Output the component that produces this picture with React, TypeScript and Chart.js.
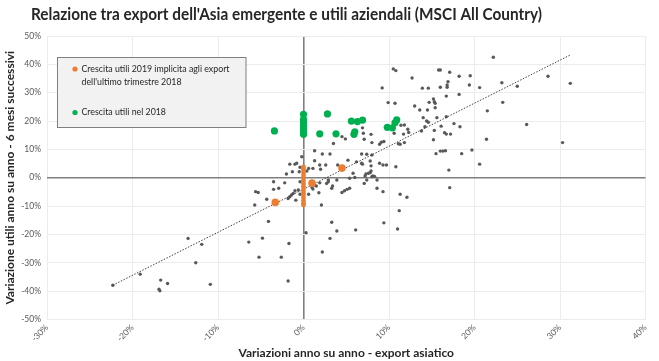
import React, { useEffect, useRef } from 'react';
import { Chart, registerables } from 'chart.js';

Chart.register(...registerables);

const chartTitle = "Relazione tra export dell'Asia emergente e utili aziendali (MSCI All Country)";
const xAxisTitle = 'Variazioni anno su anno - export asiatico';
const yAxisTitle = 'Variazione utili anno su anno - 6 mesi successivi';
const legendOrangeLines = ['Crescita utili 2019 implicita agli export', "dell'ultimo trimestre 2018"];
const legendGreenLines = ['Crescita utili nel 2018'];

const xTicks = [-30, -20, -10, 0, 10, 20, 30, 40];
const yTicks = [-50, -40, -30, -20, -10, 0, 10, 20, 30, 40, 50];

// Grey points: [export y/y %, earnings y/y % 6m later]
const greyPoints: number[][] = [
  [-22.3, -37.9], [-19.1, -34.0], [-16.7, -36.1], [-15.9, -37.3], [-16.9, -39.3], [-16.8, -39.9],
  [-13.5, -21.4], [-11.9, -23.5], [-12.6, -30.0], [-10.9, -37.6], [-6.4, -22.7], [-5.2, -28.0],
  [-4.8, -21.3], [-4.1, -15.4], [-2.6, -28.0], [-1.7, -23.2], [-1.8, -36.4], [0.3, -19.4],
  [2.2, -26.2], [3.1, -21.4], [-5.7, -9.6], [-5.6, -4.9], [-5.3, -5.2], [-3.5, -1.4],
  [-3.5, -4.1], [-4.3, -7.6], [-2.2, -1.8], [-2.0, 1.3], [-1.3, 2.1], [-1.8, -7.3],
  [-1.6, -6.7], [-1.4, -6.1], [-1.2, -5.5], [-1.0, -4.6], [-0.6, -4.3], [-0.4, -5.8],
  [-0.9, -7.9], [-0.4, -1.4], [0.6, -5.8], [1.1, -4.0], [1.5, -2.9], [1.8, -5.3],
  [2.1, -9.6], [2.9, -1.4], [2.7, -2.0], [0.4, 2.4], [-1.6, 4.8], [-1.0, 4.8],
  [-0.4, 3.7], [-0.5, 2.1], [3.3, -15.7], [3.9, -18.8], [6.1, -18.4], [1.3, 6.0],
  [1.9, 4.5], [2.6, 4.5], [2.0, 3.0], [4.5, -5.2], [4.8, -4.6], [5.1, -4.1],
  [5.4, -3.7], [3.4, -2.9], [1.9, -1.8], [1.3, -2.6], [1.0, -3.4], [3.9, -0.8],
  [5.4, -0.2], [6.0, 0.1], [7.2, 0.6], [7.3, 1.3], [7.6, 1.6], [7.8, 1.8],
  [7.4, -0.8], [7.1, -2.0], [8.0, 0.4], [8.6, -3.7], [9.3, -4.9], [11.3, -5.8],
  [12.1, -6.9], [17.1, -3.5], [11.2, -11.6], [9.4, -15.9], [11.0, -18.1], [6.9, 4.8],
  [7.9, 4.2], [8.9, 5.1], [9.3, 4.5], [10.8, 3.9], [4.0, 4.5], [4.4, 3.3],
  [0.6, 3.3], [7.9, 2.4], [8.1, 0.6], [8.3, 0.5], [17.0, 2.7], [20.6, 4.8],
  [-0.2, 7.4], [-0.8, 5.1], [1.1, 3.3], [5.8, 1.6], [5.2, 6.2], [6.2, 5.6],
  [6.8, 5.1], [7.8, 5.9], [9.7, 4.5], [1.3, 9.5], [2.2, 8.4], [3.1, 8.4],
  [6.8, 8.4], [7.4, 8.3], [8.0, 8.0], [8.9, 11.8], [9.1, 12.5], [9.4, 12.8],
  [8.0, 12.4], [11.1, 12.0], [11.3, 11.8], [11.8, 12.4], [3.5, 12.1], [4.5, 14.5],
  [4.9, 13.7], [6.9, 17.6], [7.0, 15.7], [7.9, 15.3], [7.1, 13.6], [10.6, 15.7],
  [11.7, 15.4], [11.4, 18.5], [11.8, 18.6], [12.2, 17.1], [10.5, 38.4], [10.8, 37.8],
  [9.2, 31.7], [9.9, 26.5], [10.7, 26.3], [12.7, 35.2], [13.0, 25.3], [13.6, 23.9],
  [14.5, 23.9], [13.9, 31.6], [14.6, 31.6], [15.8, 38.0], [16.0, 38.0], [17.1, 37.2],
  [18.2, 35.8], [19.5, 36.0], [16.9, 33.9], [16.8, 32.7], [16.8, 31.9], [19.4, 32.7],
  [20.6, 31.8], [23.2, 33.5], [25.0, 32.3], [28.6, 35.8], [31.2, 33.3], [22.2, 42.5],
  [16.0, 31.9], [16.7, 28.8], [18.2, 29.4], [23.3, 26.6], [21.5, 23.6], [15.2, 27.8],
  [15.3, 26.8], [15.4, 26.3], [14.7, 26.6], [15.4, 24.7], [14.0, 21.2], [14.4, 20.0],
  [14.6, 19.6], [15.6, 21.2], [16.7, 21.5], [17.6, 19.1], [18.3, 18.0], [16.1, 18.2],
  [15.3, 16.7], [13.8, 16.5], [14.2, 18.0], [16.5, 15.9], [16.7, 15.4], [17.2, 15.4],
  [15.2, 13.4], [21.4, 13.6], [26.1, 18.8], [30.3, 12.4], [15.5, 8.5], [16.0, 9.4],
  [16.3, 9.4], [16.6, 9.5], [18.5, 8.5], [19.7, 9.8], [12.3, 16.0], [-2.9, -3.7],
  [2.9, -0.8], [3.3, -3.7], [8.6, -0.8],
];

// Orange: implied 2019 earnings growth
const orangeBandX = [0, 0, 0, 0, 0, 0, 0, 0, 0, 0, 0, 0, 0, 0, 0];
const orangeBandY = [3.8, 3, 2, 1, 0, -1, -2, -3, -4, -5, -6, -7, -8, -9, -9.6];
const orangeBigPoints: number[][] = [[4.5, 3.4], [1.0, -1.9], [-3.3, -8.7]];

// Green: 2018 earnings growth
const greenPoints: number[][] = [
  [0, 22.4], [0, 20.6], [0, 19.7], [0, 18.4], [0, 17.2], [0, 16.1], [0, 15.3],
  [-3.4, 16.5], [2.8, 22.5], [1.9, 15.5], [3.8, 15.5], [5.6, 20.0], [6.3, 19.8],
  [6.9, 20.3], [6.0, 16.2], [5.9, 15.3], [9.8, 17.8], [10.4, 17.6], [10.7, 19.4], [10.9, 20.4],
];

// Trend line endpoints
const trendStart = [-22.3, -37.9];
const trendEnd = [31.2, 43.3];

const FONT = 'Lato, "Open Sans", "Noto Sans", sans-serif';
const ORANGE = '#ED7D31';
const GREEN = '#00B050';
const GREY = '#595959';

const toXY = (p: number[]) => ({ x: p[0], y: p[1] });

const overlayPlugin = {
  id: 'overlay',
  afterDraw(chart: any) {
    const ctx = chart.ctx as CanvasRenderingContext2D;
    ctx.save();
    // Title, fitted to the reference width
    ctx.font = `bold 17px ${FONT}`;
    ctx.fillStyle = '#262626';
    ctx.textBaseline = 'alphabetic';
    ctx.textAlign = 'left';
    const w = ctx.measureText(chartTitle).width;
    const target = 511;
    ctx.translate(31, 20);
    ctx.scale(target / w, 1);
    ctx.fillText(chartTitle, 0, 0);
    ctx.restore();

    // Legend box
    ctx.save();
    ctx.fillStyle = '#f2f2f2';
    ctx.strokeStyle = '#7f7f7f';
    ctx.lineWidth = 1;
    ctx.fillRect(57.5, 57.5, 188.5, 70);
    ctx.strokeRect(57.5, 57.5, 188.5, 70);
    ctx.font = `8.8px ${FONT}`;
    ctx.textBaseline = 'middle';
    ctx.textAlign = 'left';
    ctx.beginPath();
    ctx.fillStyle = ORANGE;
    ctx.arc(75, 69, 2.6, 0, Math.PI * 2);
    ctx.fill();
    ctx.fillStyle = '#262626';
    legendOrangeLines.forEach((t, i) => ctx.fillText(t, 81.5, 69 + i * 13.3));
    ctx.beginPath();
    ctx.fillStyle = GREEN;
    ctx.arc(75, 112.5, 2.6, 0, Math.PI * 2);
    ctx.fill();
    ctx.fillStyle = '#262626';
    legendGreenLines.forEach((t, i) => ctx.fillText(t, 81.5, 112.5 + i * 13.3));
    ctx.restore();
  },
};

export default function App() {
  const ref = useRef<HTMLCanvasElement | null>(null);
  useEffect(() => {
    if (!ref.current) return;
    const zeroColor = (c: any) => (c.tick && c.tick.value === 0 ? '#7f7f7f' : '#ececec');
    const zeroWidth = (c: any) => (c.tick && c.tick.value === 0 ? 1.6 : 1);
    const chart = new Chart(ref.current, {
      type: 'scatter',
      data: {
        datasets: [
          {
            label: 'Crescita utili nel 2018',
            data: greenPoints.map(toXY),
            backgroundColor: GREEN,
            borderWidth: 0,
            pointRadius: 3.6,
            order: 0,
          },
          {
            label: 'Crescita utili 2019 implicita',
            data: orangeBigPoints.map(toXY),
            backgroundColor: ORANGE,
            borderWidth: 0,
            pointRadius: 3.8,
            order: 1,
          },
          {
            label: 'Crescita utili 2019 implicita (banda)',
            data: orangeBandX.map((x, i) => ({ x, y: orangeBandY[i] })),
            backgroundColor: ORANGE,
            borderWidth: 0,
            pointRadius: 2.4,
            order: 2,
          },
          {
            label: 'Tendenza',
            type: 'line',
            data: [toXY(trendStart), toXY(trendEnd)],
            borderColor: '#404040',
            borderWidth: 1,
            borderDash: [1.5, 1.5],
            pointRadius: 0,
            fill: false,
            order: 3,
          } as any,
          {
            label: 'Dati',
            data: greyPoints.map(toXY),
            backgroundColor: GREY,
            borderWidth: 0,
            pointRadius: 1.7,
            order: 4,
          },
        ],
      },
      options: {
        animation: false,
        responsive: true,
        maintainAspectRatio: false,
        layout: { padding: { top: 36, right: 13.5, bottom: 0, left: 0 } },
        plugins: { legend: { display: false }, tooltip: { enabled: false }, title: { display: false } },
        scales: {
          x: {
            type: 'linear',
            min: -30,
            max: 40,
            afterBuildTicks: (s: any) => { s.ticks = xTicks.map((v) => ({ value: v })); },
            afterFit: (s: any) => { s.height = 41.5; },
            border: { display: false },
            grid: { color: zeroColor, lineWidth: zeroWidth, drawTicks: false },
            ticks: {
              minRotation: 45,
              maxRotation: 45,
              padding: 3,
              color: '#595959',
              font: { family: FONT, size: 8.5 },
              callback: (v: any) => `${v}%`,
            },
            title: {
              display: true,
              text: xAxisTitle,
              color: '#262626',
              font: { family: FONT, size: 12, weight: 'bold' },
              padding: { top: 0, bottom: 1 },
            },
          },
          y: {
            type: 'linear',
            min: -50,
            max: 50,
            afterBuildTicks: (s: any) => { s.ticks = yTicks.map((v) => ({ value: v })); },
            afterFit: (s: any) => { s.width = 47; },
            border: { display: false },
            grid: { color: zeroColor, lineWidth: zeroWidth, drawTicks: false },
            ticks: {
              padding: 6,
              color: '#595959',
              font: { family: FONT, size: 8.5 },
              callback: (v: any) => `${v}%`,
            },
            title: {
              display: true,
              text: yAxisTitle,
              color: '#262626',
              font: { family: FONT, size: 12, weight: 'bold' },
              padding: { top: 3, bottom: 0 },
            },
          },
        },
      },
      plugins: [overlayPlugin],
    } as any);
    return () => chart.destroy();
  }, []);
  return (
    <div style={{ position: 'fixed', left: 0, top: 0, width: 659, height: 361, background: '#fff' }}>
      <canvas ref={ref} />
    </div>
  );
}
